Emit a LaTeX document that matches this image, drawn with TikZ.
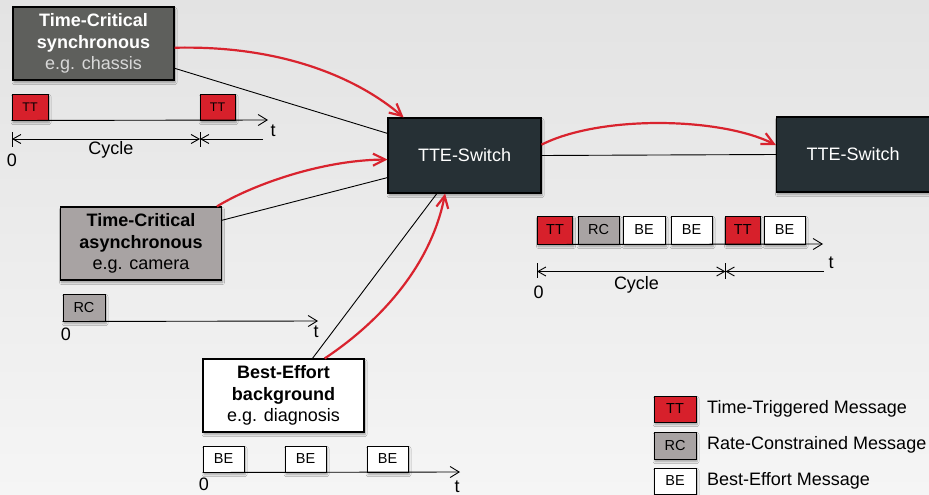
\documentclass[tikz,border=0pt]{standalone}
\usepackage{fontspec}
\setmainfont{Liberation Sans}
\usetikzlibrary{arrows.meta,shadows.blur}
\definecolor{ttred}{HTML}{D7202B}
\definecolor{rcgray}{HTML}{A8A3A3}
\definecolor{srcdark}{HTML}{5E5F5C}
\definecolor{swdark}{HTML}{263035}
\definecolor{flowred}{HTML}{D9232E}
\definecolor{bgtop}{HTML}{E3E3E3}
\definecolor{bgbot}{HTML}{F5F5F5}
\begin{document}
\begin{tikzpicture}[x=1pt, y=-1pt,
  shadowed/.style={blur shadow={shadow xshift=1pt, shadow yshift=-2.5pt, shadow blur radius=2pt, shadow blur steps=6, shadow opacity=35}},
  src/.style={draw, line width=1.1pt, shadowed, minimum width=161pt, minimum height=73pt, inner sep=0pt, align=center, font=\fontsize{18}{21.5}\selectfont},
  switch/.style={draw, line width=1.1pt, shadowed, fill=swdark, text=white, minimum width=153pt, minimum height=75pt, inner sep=0pt, font=\fontsize{18}{21}\selectfont},
  msg/.style={draw, line width=1pt, shadowed, minimum height=26pt, inner sep=0pt, font=\fontsize{14.5}{16}\selectfont},
  tt/.style={msg, fill=ttred, minimum width=35pt},
  rc/.style={msg, fill=rcgray, minimum width=41pt},
  be/.style={msg, fill=white, minimum width=41pt},
  lbl/.style={inner sep=0pt, font=\fontsize{18}{21}\selectfont},
  axis/.style={-{Straight Barb[length=9pt,width=11pt]}, line width=0.9pt},
  dim/.style={{Straight Barb[length=8pt,width=9pt]}-{Straight Barb[length=8pt,width=9pt]}, line width=0.9pt},
  halfdim/.style={-{Straight Barb[length=8pt,width=9pt]}, line width=0.9pt},
  tick/.style={line width=0.9pt},
  link/.style={line width=0.9pt},
  flow/.style={-{Straight Barb[length=12pt,width=12pt]}, line width=2.2pt, draw=flowred}
]
\useasboundingbox (0,0) rectangle (929,495);
\shade[top color=bgtop, bottom color=bgbot] (0,0) rectangle (929,495);

\node[src, fill=srcdark, text=white] (sync) at (93.5,43.5) {\textbf{Time-Critical}\\\textbf{synchronous}\\\textcolor[HTML]{D8D8D8}{e.g. chassis}};
\node[src, fill=rcgray] (async) at (141,243.5) {\textbf{Time-Critical}\\\textbf{asynchronous}\\e.g. camera};
\node[src, fill=white] (best) at (283.5,395.5) {\textbf{Best-Effort}\\\textbf{background}\\e.g. diagnosis};
\node[switch] (sw1) at (464.5,155.5) {TTE-Switch};
\node[switch] (sw2) at (853,154.5) {TTE-Switch};

\draw[link] (sync.-17) -- (sw1.164);
\draw[link] (async.16) -- (sw1.196);
\draw[link] (best.52) -- (sw1.234);
\draw[link] (sw1.east) -- (sw2.west);
\draw[flow] (sync.-3) .. controls (285,45) and (360,80) .. (sw1.148);
\draw[flow] (async.26) .. controls (250,186) and (320,160) .. (sw1.183);
\draw[flow] (best.42) .. controls (375,325) and (430,270) .. (sw1.243);
\draw[flow] (sw1.8) .. controls (600,115) and (720,117) .. (sw2.173);

\node[tt, font=\fontsize{12.5}{14}\selectfont, minimum width=36pt] (tt1a) at (30,107) {TT};
\node[tt, font=\fontsize{12.5}{14}\selectfont] (tt1b) at (217.5,107) {TT};
\coordinate (end1) at (268,120);
\draw[axis] (tt1a.south west) -- (end1);
\node[lbl] (t1) at (273,131) {t};
\coordinate (cyc1a) at (12,139);
\coordinate (cyc1b) at (200,139);
\coordinate (cyc1c) at (263,139);
\draw[tick] (12,132) -- (12,147);
\draw[tick] (200,132) -- (200,147);
\draw[dim] (cyc1a) -- (cyc1b);
\draw[halfdim] (cyc1c) -- (cyc1b);
\node[lbl] (cycle1) at (111,150) {Cycle};
\node[lbl] (zero1) at (12,160) {0};

\node[rc, minimum width=42pt, minimum height=27pt] (rc2) at (84,307.5) {RC};
\coordinate (end2) at (318,321);
\draw[axis] (rc2.south west) -- (end2);
\node[lbl] (t2) at (316,332) {t};
\node[lbl] (zero2) at (66,334) {0};

\node[be] (be3a) at (223.5,459) {BE};
\node[be] (be3b) at (305.5,459) {BE};
\node[be] (be3c) at (387.5,459) {BE};
\coordinate (end3) at (460,472);
\draw[axis] (be3a.south west) -- (end3);
\node[lbl] (t3) at (457,487) {t};
\node[lbl] (zero3) at (204,484) {0};

\node[tt, minimum height=28pt] (ttoa) at (555,230) {TT};
\node[rc, minimum height=28pt] (rco) at (598.5,230) {RC};
\node[be, minimum height=28pt, minimum width=42pt] (beoa) at (644,230) {BE};
\node[be, minimum height=28pt] (beob) at (691.5,230) {BE};
\node[tt, minimum height=28pt, minimum width=34.5pt] (ttob) at (742.75,230) {TT};
\node[be, minimum height=28pt] (beoc) at (784.5,230) {BE};
\coordinate (endo) at (823,244);
\draw[axis] (ttoa.south west) -- (endo);
\node[lbl] (to) at (831,263) {t};
\coordinate (cycoa) at (537,271.5);
\coordinate (cycob) at (725.5,271.5);
\coordinate (cycoc) at (824,271.5);
\draw[tick] (537,263) -- (537,278);
\draw[tick] (725.5,263) -- (725.5,279);
\draw[dim] (cycoa) -- (cycob);
\draw[halfdim] (cycoc) -- (cycob);
\node[lbl] (cycleo) at (636.5,285) {Cycle};
\node[lbl] (zeroo) at (538.5,292.5) {0};

\node[tt, minimum width=42pt] (legtt) at (675,409) {TT};
\node[rc, minimum width=42pt, minimum height=27pt] (legrc) at (675,445.5) {RC};
\node[be, minimum width=42pt] (legbe) at (675,481) {BE};
\node[lbl, anchor=west] (legttl) at (707,409) {Time-Triggered Message};
\node[lbl, anchor=west] (legrcl) at (707,445) {Rate-Constrained Message};
\node[lbl, anchor=west] (legbel) at (707,481) {Best-Effort Message};
\end{tikzpicture}
\end{document}
